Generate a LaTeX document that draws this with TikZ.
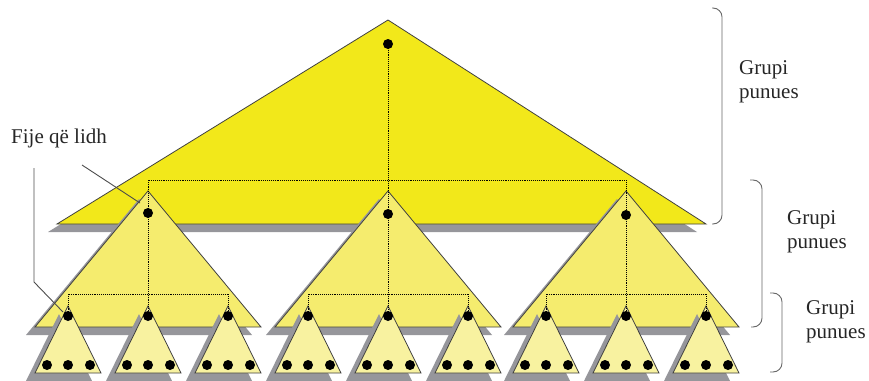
\documentclass[tikz,border=0pt]{standalone}
\usepackage{fontspec}
\setmainfont{Liberation Serif}
\usepackage{xcolor}
\usetikzlibrary{positioning,calc}

\definecolor{bigyellow}{RGB}{242,232,26}
\definecolor{midyellow}{RGB}{245,236,110}
\definecolor{smallyellow}{RGB}{248,242,160}
\definecolor{shadegray}{RGB}{150,150,155}

\begin{document}
\begin{tikzpicture}[x=1pt, y=-1pt,
    every node/.style={font=\fontsize{21}{24}\selectfont, text=black!85},
    tri/.style={draw=black!75, line width=0.8pt, line join=miter},
    shade/.style={fill=shadegray, shift={(-9,8)}},
    link/.style={densely dotted, line width=0.9pt, black},
    leader/.style={draw=black!70, line width=0.9pt},
    brace/.style={draw=black!60, line width=0.9pt, rounded corners=9pt},
    group/.style={align=left, inner sep=0pt}]
    \useasboundingbox (0,0) rectangle (869,380);

    % Top level
    \fill[shade] (388,20) -- (706,224) -- (57,224) -- cycle;
    \filldraw[tri, fill=bigyellow] (388,20) -- (706,224) -- (57,224) -- cycle;

    % Middle level
    \foreach \cx in {148,388,626}
        \fill[shade] (\cx,191) -- ++(113,136) -- ++(-226,0) -- cycle;
    \foreach \cx in {148,388,626}
        \filldraw[tri, fill=midyellow] (\cx,191) -- ++(113,136) -- ++(-226,0) -- cycle;

    % Bottom level
    \foreach \cx in {68,148,228,308,388,468,546,626,706}
        \fill[shade] (\cx,306) -- ++(33,67) -- ++(-66,0) -- cycle;
    \foreach \cx in {68,148,228,308,388,468,546,626,706}
        \filldraw[tri, fill=smallyellow] (\cx,306) -- ++(33,67) -- ++(-66,0) -- cycle;

    % Threads
    \coordinate (top) at (388,44);
    \coordinate (m1) at (148,213);
    \coordinate (m2) at (388,214);
    \coordinate (m3) at (626,215);
    \foreach \i/\cx in {1/68,2/148,3/228,4/308,5/388,6/468,7/546,8/626,9/706}
        \coordinate (s\i) at (\cx,316);
    \coordinate (hub) at (388,180);

    \draw[link] (top) -- (m2);
    \draw[link] (m1) |- (hub) -| (m3);
    \foreach \i/\a/\b/\c/\cx in {1/1/2/3/148, 2/4/5/6/388, 3/7/8/9/626} {
        \coordinate (h\i) at (\cx,294);
        \draw[link] (m\i) -- (s\b);
        \draw[link] (s\a) |- (h\i) -| (s\c);
    }

    \foreach \n in {top,m1,m2,m3,s1,s2,s3,s4,s5,s6,s7,s8,s9}
        \fill (\n) circle[radius=5pt];
    \foreach \cx in {68,148,228,308,388,468,546,626,706}
        \foreach \dx in {-21,0,22}
            \fill (\cx+\dx,365) circle[radius=5pt];

    % Label with leaders
    \node[anchor=base west, inner sep=0pt] (lbl) at (11,143) {Fije që lidh};
    \coordinate (lead1) at (82,165);
    \coordinate (lead2) at (34,168);
    \coordinate (bend) at (34,282);
    \draw[leader] (lead1) -- ([xshift=-8pt,yshift=10pt]m1);
    \draw[leader] (lead2) -- (bend) -- ([xshift=-5pt,yshift=4pt]s1);

    % Braces
    \draw[brace] (712,8) -- (722,8) -- (722,224) -- (712,224);
    \draw[brace] (750,180) -- (762,180) -- (762,327) -- (751,327);
    \draw[brace] (770,293) -- (782,293) -- (782,372) -- (770,372);
    \node[group, anchor=west] (grp1) at (739,82) {Grupi\\punues};
    \node[group, anchor=west] (grp2) at (787,232) {Grupi\\punues};
    \node[group, anchor=west] (grp3) at (806,322) {Grupi\\punues};
\end{tikzpicture}
\end{document}
